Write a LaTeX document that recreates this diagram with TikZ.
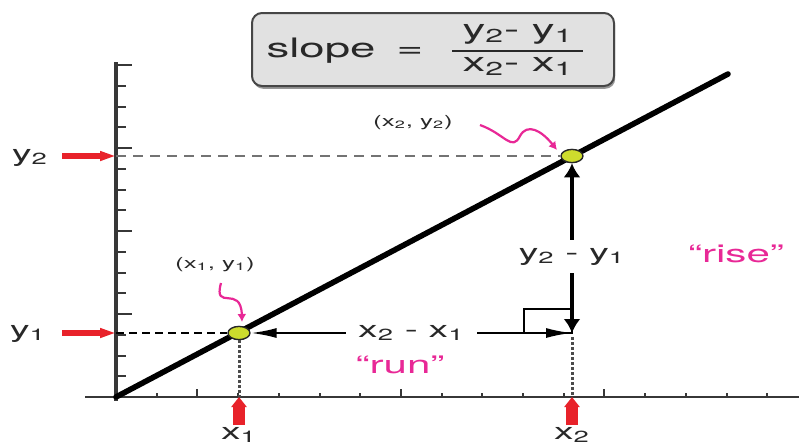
\documentclass[tikz,border=0pt]{standalone}
\usepackage{fontspec}
\setmainfont{TeX Gyre Heros}[FakeStretch=1.7]
\usetikzlibrary{arrows.meta,shapes.geometric,shadows}
\definecolor{Ink}{RGB}{40,40,40}
\definecolor{AxisGray}{RGB}{55,55,55}
\definecolor{GuideGray}{RGB}{115,115,115}
\definecolor{MarkRed}{RGB}{232,34,42}
\definecolor{NotePink}{RGB}{232,40,150}
\definecolor{PointLime}{RGB}{205,220,45}
\definecolor{BoxFill}{RGB}{225,225,225}
\definecolor{BoxEdge}{RGB}{70,70,70}
\tikzset{
  >=Latex,
  formula/.style={draw=BoxEdge,line width=1pt,rounded corners=5pt,fill=BoxFill,minimum width=181pt,minimum height=36.5pt,drop shadow={shadow xshift=.6pt,shadow yshift=-1.4pt,fill=black!75,opacity=.55}},
  big/.style={font=\fontsize{13.4}{16}\selectfont,text=Ink,inner sep=0pt,anchor=base},
  axlabel/.style={font=\fontsize{11.5}{14}\selectfont,text=Ink,inner sep=0pt,anchor=base},
  coordlabel/.style={font=\fontsize{7.6}{9}\selectfont,text=Ink,inner sep=0pt,anchor=base},
  quotelabel/.style={font=\fontsize{12.4}{15}\selectfont,text=NotePink,inner sep=0pt,anchor=base},
  gap/.style={fill=white,font=\fontsize{11.5}{14}\selectfont,text=Ink,inner xsep=6pt,inner ysep=4pt},
  vaxis/.style={line width=1.8pt,draw=AxisGray},
  haxis/.style={line width=1.1pt,draw=AxisGray},
  axtick/.style={line width=1pt,draw=AxisGray},
  trend/.style={line width=2.8pt,draw=black,line cap=round},
  pt/.style={ellipse,draw=black!85,line width=.7pt,fill=PointLime,minimum width=11pt,minimum height=6.6pt,inner sep=0pt},
  guide/.style={line width=.8pt,draw=GuideGray,dash pattern=on 5pt off 3.5pt},
  guidedark/.style={line width=.8pt,draw=black,dash pattern=on 4pt off 2.5pt},
  drop/.style={line width=1.5pt,draw=black!70,dash pattern=on 1.5pt off 1pt},
  runspan/.style={{Latex[length=13pt,width=5pt]}-{Latex[length=13pt,width=5pt]},line width=1.1pt,draw=black},
  risespan/.style={{Latex[length=7pt,width=8.5pt]}-{Latex[length=7pt,width=8.5pt]},line width=2.4pt,draw=black},
  rightmark/.style={line width=.9pt,draw=black},
  redh/.style={-{Triangle[length=8pt,width=4.5pt]},line width=3pt,draw=MarkRed},
  redv/.style={-{Triangle[length=5pt,width=7.5pt]},line width=6pt,draw=MarkRed},
  notearrow/.style={-{Latex[length=4pt,width=4.5pt]},line width=1.1pt,draw=NotePink}
}

\begin{document}
\begin{tikzpicture}[x=.5pt,y=-.5pt]
  \useasboundingbox (0,0) rectangle (799,446);
  % formula box
  \node[formula] (box) at (433,49.5) {};
  \node[big] (slp) at (321,57) {slope};
  \node[big] (eq) at (410,57) {=};
  \node[big] (num) at (518,38) {y\textsubscript{2}- y\textsubscript{1}};
  \node[big] (den) at (518,71) {x\textsubscript{2}- x\textsubscript{1}};
  \draw[line width=1.1pt,draw=Ink] (452,51) -- (583,51);
  % axes
  \coordinate (o) at (116,397);
  \draw[vaxis] (116,62) -- (116,401);
  \draw[haxis] (85,397) -- (799,397);
  \foreach \k in {1,...,16}{
    \pgfmathsetmacro\len{mod(\k,4)==0 ? 16 : 10}
    \draw[axtick] (116,397-20.75*\k) -- ++(\len,0);
  }
  \foreach \k in {1,...,16}{
    \pgfmathsetmacro\len{mod(\k,5)==2 ? 8 : 4}
    \draw[axtick] (116+40.7*\k,397) -- ++(0,-\len);
  }
  % the line and its two points
  \coordinate (tip) at (728,74);
  \draw[trend] (o) -- (tip);
  \coordinate (yax1) at (116,333);
  \coordinate (yax2) at (116,156);
  \coordinate (xax1) at (239,397);
  \coordinate (xax2) at (572,397);
  \coordinate (c) at (572,333);
  \node[pt] (p1) at (239,333) {};
  \node[pt] (p2) at (572,156) {};
  \draw[guide] (yax2) -- (p2);
  \draw[guidedark] (yax1) -- (p1);
  \draw[drop] (p1) -- (xax1);
  \draw[drop] ([yshift=-2pt]c) -- (xax2);
  % run and rise
  \draw[rightmark] (c) rectangle ++(-48,-24);
  \draw[runspan] (c) -- node[gap]{x\textsubscript{2} - x\textsubscript{1}} (p1);
  \draw[risespan] (c) -- node[gap,pos=.45]{y\textsubscript{2} - y\textsubscript{1}} (p2);
  \node[quotelabel] (run) at (400,373) {“run”};
  \node[quotelabel] (rise) at (736,262) {“rise”};
  % point labels
  \node[coordlabel] (c1) at (215,268) {(x\textsubscript{1}, y\textsubscript{1})};
  \node[coordlabel] (c2) at (413,126) {(x\textsubscript{2}, y\textsubscript{2})};
  \coordinate (w1) at (221,283);
  \coordinate (w2) at (480,125);
  \draw[notearrow] (w1) .. controls (213,312) and (241,284) .. (242,322);
  \draw[notearrow] (w2) .. controls (505,134) and (512,152) .. (520,136) .. controls (527,123) and (541,130) .. (557,150);
  % axis markers
  \node[axlabel] (ly2) at (30,161) {y\textsubscript{2}};
  \node[axlabel] (ly1) at (28,337) {y\textsubscript{1}};
  \node[axlabel] (lx1) at (239,439) {x\textsubscript{1}};
  \node[axlabel] (lx2) at (572,439) {x\textsubscript{2}};
  \coordinate (r2) at (62,156);
  \coordinate (r1) at (62,333);
  \coordinate (rx1) at (239,425);
  \coordinate (rx2) at (572,425);
  \draw[redh] (r2) -- (yax2);
  \draw[redh] (r1) -- (yax1);
  \draw[redv] (rx1) -- (xax1);
  \draw[redv] (rx2) -- (xax2);
\end{tikzpicture}
\end{document}
